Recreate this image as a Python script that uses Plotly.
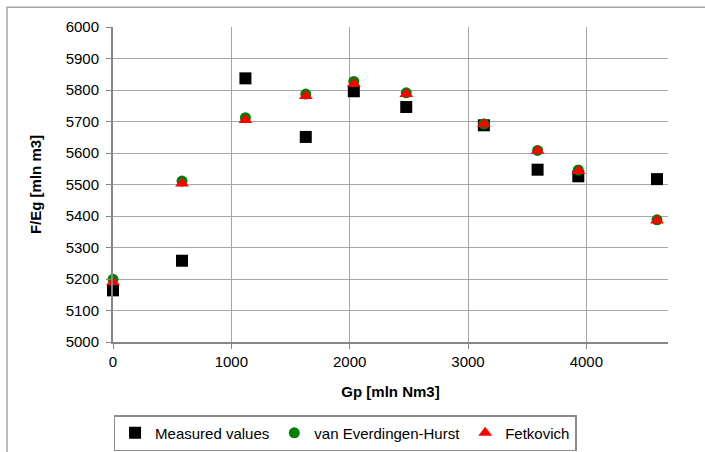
import plotly.graph_objects as go

gp = [0, 583, 1119, 1629, 2035, 2478, 3134, 3588, 3932, 4597]
measured = [5164, 5258, 5837, 5651, 5796, 5746, 5688, 5547, 5526, 5517]
van_everdingen_hurst = [5199, 5511, 5712, 5787, 5827, 5791, 5692, 5608, 5546, 5388]
fetkovich = [5190, 5503, 5705, 5781, 5820, 5787, 5692, 5607, 5543, 5386]

FONT = "Liberation Sans, Arial, sans-serif"

fig = go.Figure()
fig.add_trace(go.Scatter(x=gp, y=measured, mode="markers", name="Measured values",
                         marker=dict(symbol="square", size=12, color="black"), cliponaxis=False))
fig.add_trace(go.Scatter(x=gp, y=van_everdingen_hurst, mode="markers", name="van Everdingen-Hurst",
                         marker=dict(symbol="circle", size=11, color="#008000"), cliponaxis=False))
fig.add_trace(go.Scatter(x=gp, y=fetkovich, mode="markers", name="Fetkovich",
                         marker=dict(symbol="triangle-up", size=12, color="#ff0000"), cliponaxis=False))

fig.update_layout(
    width=705, height=452,
    margin=dict(l=113, r=37, t=27, b=110, autoexpand=False),
    paper_bgcolor="white", plot_bgcolor="white",
    font=dict(family=FONT, size=14, color="black"),
    showlegend=True,
    legend=dict(orientation="h", x=0.001, xanchor="left", y=-0.232, yanchor="top",
                bordercolor="#8c8c8c", borderwidth=1.5, font=dict(size=15),
                itemwidth=30, tracegroupgap=0),
    xaxis=dict(range=[0, 4690], tick0=0, dtick=1000, showgrid=True, gridcolor="#a6a6a6", gridwidth=1.3,
               showline=True, linecolor="#868686", linewidth=2, ticks="outside", ticklen=5,
               tickcolor="#868686", zeroline=False, tickfont=dict(size=15), automargin=False,
               title=dict(text="<b>Gp [mln Nm3]</b>", font=dict(size=15), standoff=17)),
    yaxis=dict(range=[5000, 6000], tick0=5000, dtick=100, showgrid=True, gridcolor="#a6a6a6", gridwidth=1.3,
               showline=True, linecolor="#868686", linewidth=2, ticks="outside", ticklen=5,
               tickcolor="#868686", zeroline=False, tickfont=dict(size=15), ticklabelstandoff=4,
               automargin=False,
               title=dict(text="<b>F/Eg [mln m3]</b>", font=dict(size=15), standoff=20)),
    shapes=[dict(type="rect", xref="paper", yref="paper", x0=-0.191, x1=1.2, y0=-0.6, y1=1.0625,
                 line=dict(color="#a6a6a6", width=1.5), fillcolor="rgba(0,0,0,0)", layer="below")],
)

fig.write_html("out.html")
